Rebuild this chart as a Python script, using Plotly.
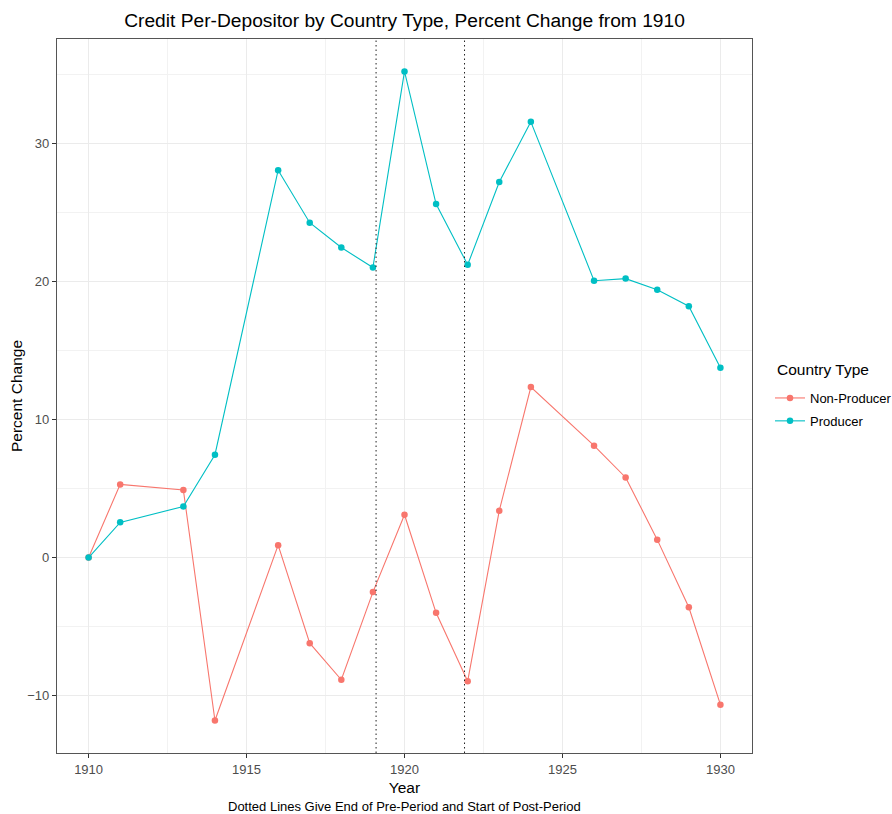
import plotly.graph_objects as go

# Years observed for each country type
years = [1910, 1911, 1913, 1914, 1916, 1917, 1918, 1919, 1920,
         1921, 1922, 1923, 1924, 1926, 1927, 1928, 1929, 1930]

# Percent change in credit per depositor relative to 1910
non_producer = [0.0, 5.3, 4.9, -11.8, 0.9, -6.2, -8.85, -2.5, 3.1,
                -4.0, -8.95, 3.4, 12.35, 8.1, 5.8, 1.3, -3.6, -10.65]
producer = [0.0, 2.55, 3.7, 7.45, 28.05, 24.25, 22.45, 21.0, 35.2,
            25.6, 21.2, 27.2, 31.55, 20.05, 20.2, 19.4, 18.2, 13.75]

# End of pre-period and start of post-period
period_marks = [1919.1, 1921.9]

COL_NP = "#F8766D"
COL_P = "#00BFC4"
FONT = "Liberation Sans, Arial, sans-serif"

W, H = 892, 814
ML, MR, MT, MB = 57, 140, 39, 61
PW = W - ML - MR
PH = H - MT - MB

fig = go.Figure()
fig.add_trace(go.Scatter(
    x=years, y=non_producer, name="Non-Producer", mode="lines+markers",
    legendgroup="np",
    line=dict(color=COL_NP, width=1.1), marker=dict(color=COL_NP, size=6.5),
))
fig.add_trace(go.Scatter(
    x=years, y=producer, name="Producer", mode="lines+markers",
    legendgroup="p",
    line=dict(color=COL_P, width=1.1), marker=dict(color=COL_P, size=6.5),
))

for xv in period_marks:
    fig.add_shape(type="line", xref="x", yref="paper", x0=xv, x1=xv, y0=0, y1=1,
                  line=dict(color="#222222", width=1, dash="1.5px,3px"), layer="above")

axis_common = dict(
    showline=True, mirror=True, linecolor="#555555", linewidth=1.3,
    ticks="outside", ticklen=4, tickcolor="#333333", tickwidth=1,
    tickfont=dict(family=FONT, size=13, color="#4D4D4D"),
    gridcolor="#EBEBEB", gridwidth=1, zeroline=False,
)

fig.update_xaxes(
    range=[1909, 1931], tickvals=[1910, 1915, 1920, 1925, 1930],
    minor=dict(tickvals=[1912.5, 1917.5, 1922.5, 1927.5], showgrid=True,
               gridcolor="#F2F2F2", gridwidth=0.6, ticks=""),
    title=dict(text="Year", font=dict(family=FONT, size=15.5, color="black"), standoff=6),
    **axis_common,
)
fig.update_yaxes(
    range=[-14.15, 37.55], tickvals=[-10, 0, 10, 20, 30],
    minor=dict(tickvals=[-5, 5, 15, 25, 35], showgrid=True,
               gridcolor="#F2F2F2", gridwidth=0.6, ticks=""),
    title=dict(text="Percent Change", font=dict(family=FONT, size=15.5, color="black"), standoff=0),
    **axis_common,
)

fig.update_layout(
    width=W, height=H,
    margin=dict(l=ML, r=MR, t=MT, b=MB, autoexpand=False),
    paper_bgcolor="white", plot_bgcolor="white",
    font=dict(family=FONT, color="black"),
    title=dict(text="Credit Per-Depositor by Country Type, Percent Change from 1910",
               x=0.5, xanchor="center", xref="paper",
               y=1 - 20 / H, yanchor="middle",
               font=dict(family=FONT, size=19.2, color="black")),
    legend=dict(
        font=dict(family=FONT, size=13, color="black"),
        x=1 + (770 - (ML + PW)) / PW, xanchor="left",
        y=1 - (383 - MT) / PH, yanchor="top",
        bgcolor="rgba(0,0,0,0)", itemwidth=30,
        traceorder="grouped", tracegroupgap=3,
    ),
    showlegend=True,
)

# Legend heading
fig.add_annotation(
    text="Country Type", xref="paper", yref="paper",
    x=1 + (775 - (ML + PW)) / PW, y=1 - (369 - MT) / PH,
    xanchor="left", yanchor="middle", showarrow=False,
    font=dict(family=FONT, size=15.5, color="black"),
)

# Caption under the x-axis title
fig.add_annotation(
    text="Dotted Lines Give End of Pre-Period and Start of Post-Period",
    xref="paper", yref="paper", x=0.5, y=0, yshift=-(806 - (MT + PH)),
    xanchor="center", yanchor="middle",
    showarrow=False, font=dict(family=FONT, size=13, color="black"),
)

fig.write_html("out.html")
